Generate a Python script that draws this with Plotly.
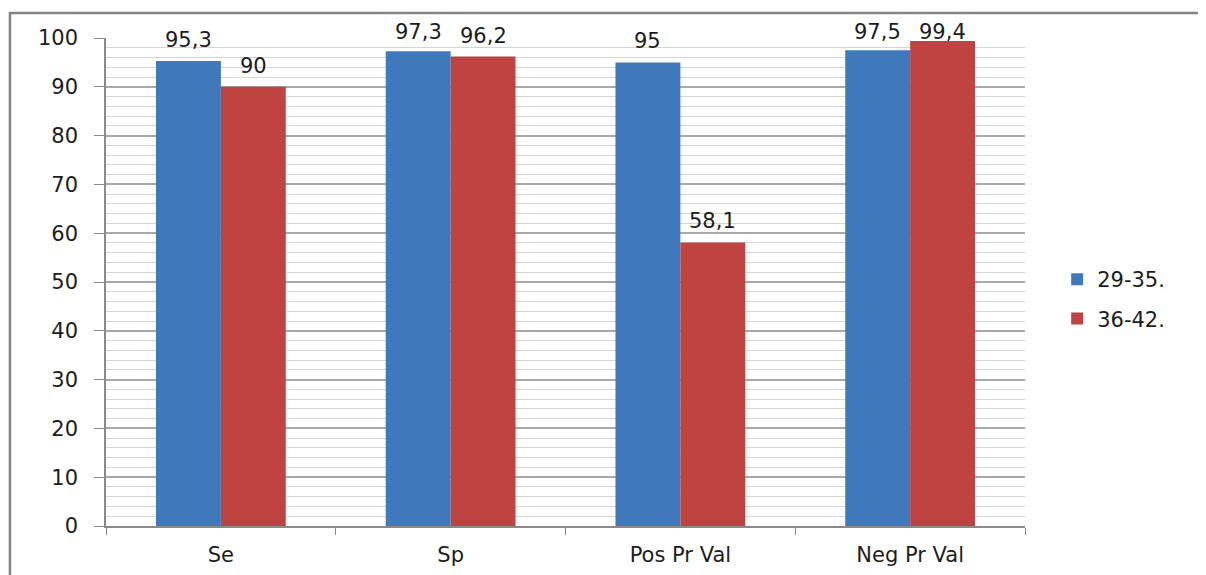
import plotly.graph_objects as go

categories = ["Se", "Sp", "Pos Pr Val", "Neg Pr Val"]
series_names = ["29-35.", "36-42."]
values_29_35 = [95.3, 97.3, 95, 97.5]
values_36_42 = [90, 96.2, 58.1, 99.4]
y_ticks = [0, 10, 20, 30, 40, 50, 60, 70, 80, 90, 100]

colors = ["#4079BB", "#BF4441"]
FONT = "DejaVu Sans"
TXT = "#1c1c1c"

# layout geometry (page has an 8px body margin)
W, H = 1198, 567
ML, MT = 98, 30
PW, PH = 919, 488
MR, MB = W - ML - PW, H - MT - PH
px_per_unit = PH / 100.0
bar_px = 65


def fmt(v):
    return ("%g" % v).replace(".", ",")


fig = go.Figure()
for i, (name, vals, col) in enumerate(zip(series_names, [values_29_35, values_36_42], colors)):
    fig.add_trace(go.Bar(
        x=categories, y=vals, name=name, legendgroup=name,
        marker=dict(color=col, line=dict(width=0)),
    ))
    xs = (-bar_px / 2) if i == 0 else (bar_px / 2)
    for c, v in zip(categories, vals):
        shift = min(21, px_per_unit * (101.2 - v))
        fig.add_annotation(
            x=c, y=v, text=fmt(v), showarrow=False,
            xshift=xs, yshift=shift, yanchor="middle",
            font=dict(family=FONT, size=21, color=TXT),
        )

fig.update_layout(
    width=W, height=H,
    margin=dict(l=ML, r=MR, t=MT, b=MB, autoexpand=False),
    paper_bgcolor="white", plot_bgcolor="white",
    barmode="group", bargap=0.435, bargroupgap=0,
    font=dict(family=FONT, size=21, color=TXT),
    legend=dict(
        x=1.035, y=0.465, xanchor="left", yanchor="middle",
        font=dict(family=FONT, size=21, color=TXT),
        itemwidth=30, tracegroupgap=9,
    ),
    showlegend=True,
)

fig.update_xaxes(
    automargin=False,
    showline=True, linecolor="#8a8a8a", linewidth=1.5,
    ticks="outside", ticklen=7, tickcolor="#8a8a8a", tickson="boundaries",
    showgrid=False, ticklabelstandoff=9,
    tickfont=dict(family=FONT, size=21, color=TXT),
)
fig.update_yaxes(
    automargin=False,
    range=[0, 100], tickmode="linear", tick0=0, dtick=10,
    showline=True, linecolor="#8a8a8a", linewidth=1.5,
    ticks="outside", ticklen=10, tickcolor="#8a8a8a", ticklabelstandoff=12,
    showgrid=True, gridcolor="#A8A8A8", gridwidth=1.5,
    minor=dict(tickmode="linear", tick0=0, dtick=2, showgrid=True,
               gridcolor="#D4D4D4", gridwidth=1),
    zeroline=False,
    tickfont=dict(family=FONT, size=21, color=TXT),
)

# outer chart border (partly cropped in reference)
fig.add_shape(
    type="rect", xref="paper", yref="paper",
    x0=-0.1045, x1=1.25, y0=-0.2, y1=1 + 25.0 / PH,
    line=dict(color="#858585", width=2.5), fillcolor="rgba(0,0,0,0)",
    layer="below",
)

fig.write_html("out.html")
